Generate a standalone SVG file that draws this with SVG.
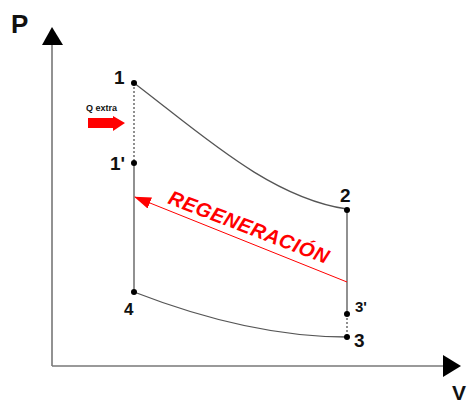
<svg xmlns="http://www.w3.org/2000/svg" width="470" height="403" viewBox="0 0 470 403">
<defs>
<style>
.lbl{font-family:"Liberation Sans",Arial,sans-serif;font-weight:bold;fill:#111}
.ln{stroke:#555;stroke-width:1.3;fill:none}
.dot{stroke:#555;stroke-width:1.3;stroke-dasharray:2,2;fill:none}
.ax{stroke:#777;stroke-width:1.6;fill:none}
.pt{fill:#000}
</style>
<marker id="redhead" markerWidth="17" markerHeight="12" refX="16" refY="6" orient="auto" markerUnits="userSpaceOnUse" viewBox="0 0 17 12">
<path d="M0,0 L17,6 L0,12 Z" fill="#f00"/>
</marker>
</defs>
<rect width="470" height="403" fill="#fff"/>
<g id="axes">
<line class="ax" x1="52" y1="42" x2="52" y2="366"/>
<line class="ax" x1="52" y1="366" x2="446" y2="366"/>
<path d="M52,27 L63,45 L42,45 Z" fill="#000"/>
<path d="M461,366 L443,355 L443,377 Z" fill="#000"/>
<text class="lbl" x="11" y="33" font-size="26">P</text>
<text class="lbl" x="452" y="400" font-size="21">V</text>
</g>
<g id="connectors">
<path class="ln" d="M134,83 C200,133 270,198 347,209"/>
<path class="ln" d="M134,292 Q250,337 347,337"/>
<line class="dot" x1="134" y1="83" x2="134" y2="163"/>
<line class="ln" x1="134" y1="163" x2="134" y2="292"/>
<line class="ln" x1="347" y1="209" x2="347" y2="314"/>
<line class="dot" x1="347" y1="314" x2="347" y2="337"/>
<line x1="347" y1="282" x2="135" y2="197" stroke="#f00" stroke-width="1" marker-end="url(#redhead)"/>
</g>
<g id="n1"><circle class="pt" cx="134" cy="83" r="3"/><text class="lbl" x="114" y="84" font-size="19">1</text></g>
<g id="n1p"><circle class="pt" cx="134" cy="163" r="3"/><text class="lbl" x="110" y="170" font-size="19">1'</text></g>
<g id="n4"><circle class="pt" cx="134" cy="292" r="3"/><text class="lbl" x="124" y="315" font-size="17">4</text></g>
<g id="n2"><circle class="pt" cx="347" cy="210" r="3"/><text class="lbl" x="340" y="202" font-size="19">2</text></g>
<g id="n3p"><circle class="pt" cx="347" cy="314" r="3"/><text class="lbl" x="355" y="312" font-size="15">3'</text></g>
<g id="n3"><circle class="pt" cx="347" cy="337" r="3"/><text class="lbl" x="354" y="347" font-size="19">3</text></g>
<g id="qextra">
<text class="lbl" x="86" y="111" font-size="9">Q extra</text>
<path d="M88,118 L113,118 L113,116 L125,123 L113,131 L113,128 L88,128 Z" fill="#f00"/>
</g>
<g id="regen">
<text x="0" y="0" transform="translate(167,203) rotate(21)" font-family="Liberation Sans,Arial,sans-serif" font-weight="bold" font-style="italic" font-size="20" fill="#f00" textLength="170" lengthAdjust="spacing">REGENERACIÓN</text>
</g>
</svg>
